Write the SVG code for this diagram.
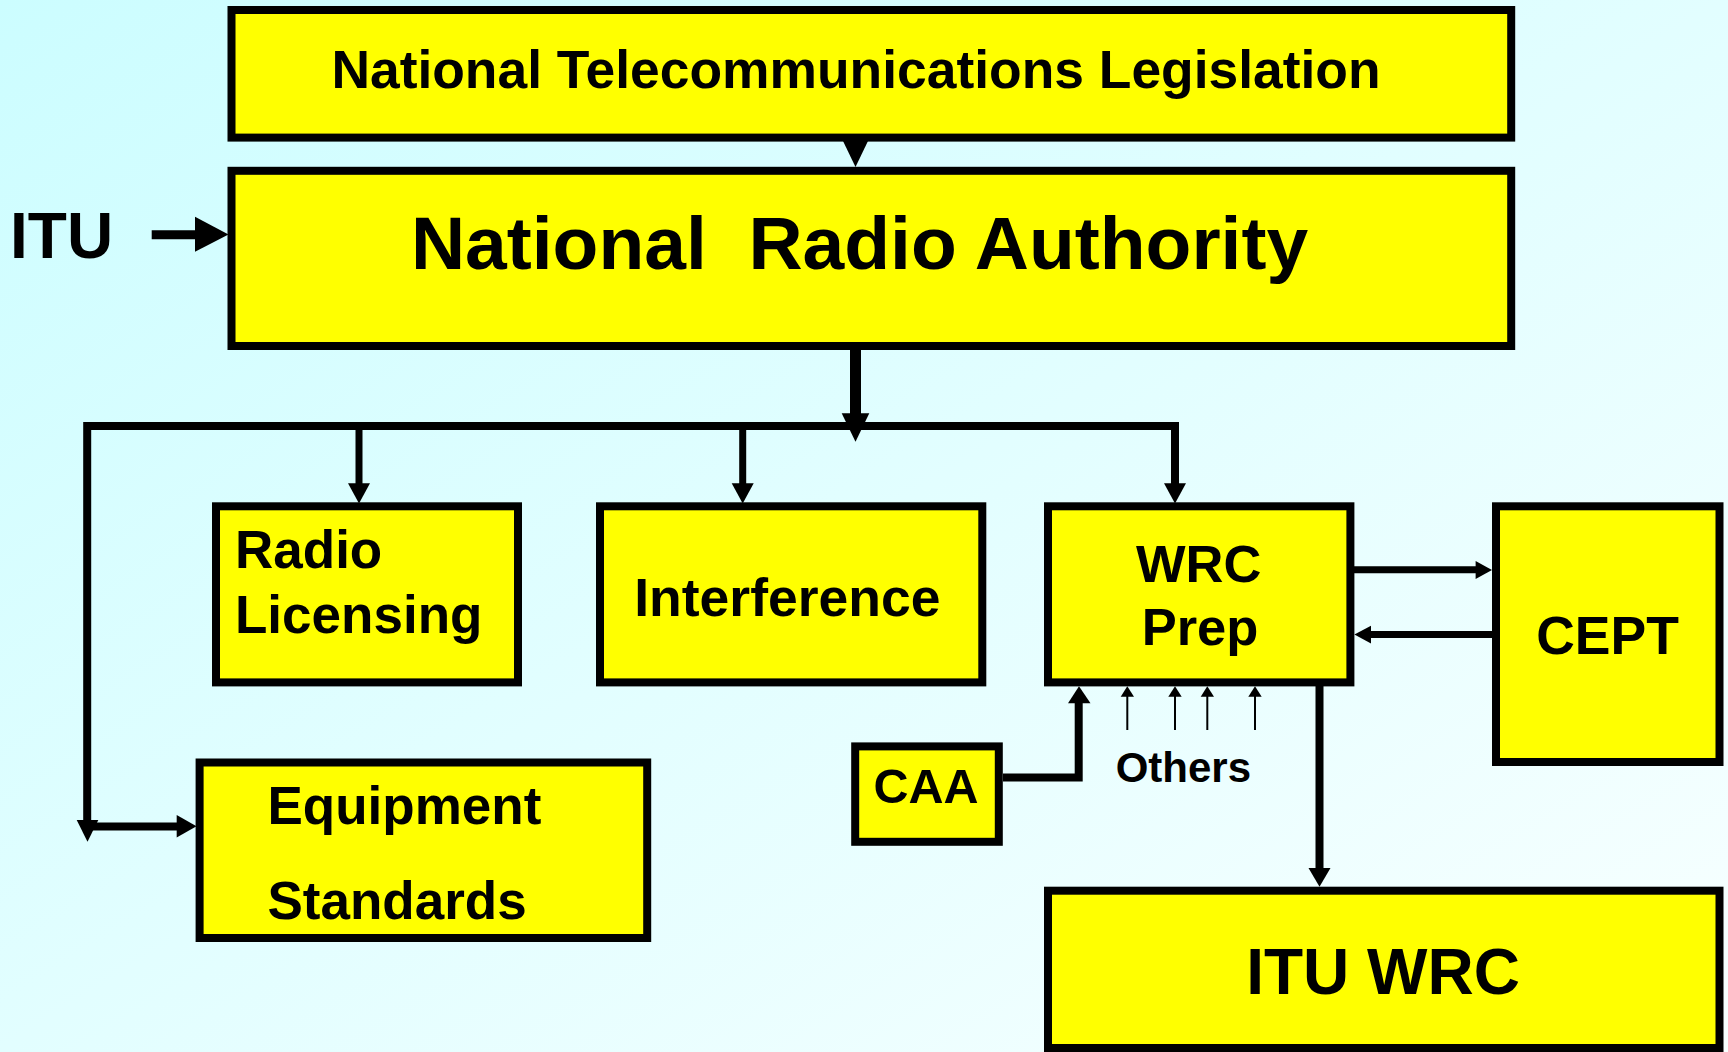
<svg xmlns="http://www.w3.org/2000/svg" width="1728" height="1052" viewBox="0 0 1728 1052">
<defs>
<linearGradient id="bg" x1="0" y1="0" x2="1" y2="1">
<stop offset="0" stop-color="#ccfdff"/>
<stop offset="1" stop-color="#f8ffff"/>
</linearGradient>
<style>
.box{fill:#ffff00;stroke:#000;stroke-width:8}
.t{font-family:"Liberation Sans",Arial,Helvetica,sans-serif;font-weight:bold;fill:#000}
.m{text-anchor:middle}
.ln{fill:none;stroke:#000;stroke-width:8;stroke-linejoin:miter}
.thin{fill:none;stroke:#000;stroke-width:2}
.ah{fill:#000}
</style>
</defs>
<rect x="0" y="0" width="1728" height="1052" fill="url(#bg)"/>

<g id="connectors">
<!-- legislation -> NRA -->
<polygon class="ah" points="843,141 868,141 855.5,167"/>
<!-- ITU -> NRA -->
<line class="ln" x1="151.7" y1="234.7" x2="197" y2="234.7" style="stroke-width:9"/>
<polygon class="ah" points="195,216.7 195,251.7 228.5,234.5"/>
<!-- trunk -->
<line class="ln" x1="855.5" y1="350" x2="855.5" y2="415" style="stroke-width:11"/>
<polygon class="ah" points="841.7,413.3 869.3,413.3 855.5,441.7"/>
<!-- bus -->
<polyline class="ln" points="87.2,822 87.2,426 1175,426 1175,485"/>
<polygon class="ah" points="1164,483.2 1186,483.2 1175,503.4"/>
<line class="ln" x1="359" y1="426" x2="359" y2="485" style="stroke-width:7"/>
<polygon class="ah" points="348,483.2 370,483.2 359,503.4"/>
<line class="ln" x1="742.7" y1="426" x2="742.7" y2="485" style="stroke-width:7"/>
<polygon class="ah" points="731.7,483.2 753.7,483.2 742.7,503.4"/>
<!-- left down arrowhead and equipment arrow -->
<polygon class="ah" points="76.7,820 98.3,820 87.5,841.7"/>
<line class="ln" x1="91" y1="826.5" x2="178" y2="826.5"/>
<polygon class="ah" points="176.7,815 176.7,837.5 196.5,826.3"/>
<!-- WRC Prep -> CEPT -->
<line class="ln" x1="1354" y1="569.7" x2="1477" y2="569.7" style="stroke-width:7"/>
<polygon class="ah" points="1475.6,561 1475.6,579 1492,570"/>
<!-- CEPT -> WRC Prep -->
<line class="ln" x1="1370" y1="634.4" x2="1492" y2="634.4" style="stroke-width:7"/>
<polygon class="ah" points="1371,625.7 1371,643.5 1354.4,634.6"/>
<!-- WRC Prep -> ITU WRC -->
<line class="ln" x1="1319.5" y1="686" x2="1319.5" y2="870" style="stroke-width:8"/>
<polygon class="ah" points="1308.5,868 1330.5,868 1319.5,886.7"/>
<!-- CAA -> WRC Prep -->
<polyline class="ln" points="1003,777.5 1078.7,777.5 1078.7,702"/>
<polygon class="ah" points="1068,703.3 1090.5,703.3 1079,686.2"/>
<!-- Others -->
<line class="thin" x1="1127.3" y1="730" x2="1127.3" y2="696"/>
<polygon class="ah" points="1120.7,696.7 1134,696.7 1127.3,686.2"/>
<line class="thin" x1="1175" y1="730" x2="1175" y2="696"/>
<polygon class="ah" points="1168.3,696.7 1181.7,696.7 1175,686.2"/>
<line class="thin" x1="1207.3" y1="730" x2="1207.3" y2="696"/>
<polygon class="ah" points="1200.7,696.7 1214,696.7 1207.3,686.2"/>
<line class="thin" x1="1255" y1="730" x2="1255" y2="696"/>
<polygon class="ah" points="1248.3,696.7 1261.7,696.7 1255,686.2"/>
</g>

<g id="legislation">
<rect class="box" x="231.5" y="10" width="1279.7" height="127.6"/>
<text class="t m" x="856" y="88.3" font-size="53.4">National Telecommunications Legislation</text>
</g>
<g id="nra">
<rect class="box" x="231.5" y="170.8" width="1279.7" height="175.2"/>
<text class="t m" x="859.5" y="268.5" font-size="75" style="white-space:pre" xml:space="preserve">National  Radio Authority</text>
</g>
<g id="itu">
<text class="t" x="10" y="258.4" font-size="64">ITU</text>
</g>
<g id="licensing">
<rect class="box" x="216" y="506.3" width="302" height="176.1"/>
<text class="t" x="235" y="568" font-size="53">Radio</text>
<text class="t" x="235" y="632.7" font-size="53">Licensing</text>
</g>
<g id="interference">
<rect class="box" x="600" y="506.3" width="382.3" height="176.1"/>
<text class="t m" x="787.4" y="616" font-size="53.5">Interference</text>
</g>
<g id="wrcprep">
<rect class="box" x="1048" y="506.3" width="302.4" height="176.1"/>
<text class="t m" x="1198.7" y="582" font-size="52.5">WRC</text>
<text class="t m" x="1200" y="645" font-size="52.5">Prep</text>
</g>
<g id="cept">
<rect class="box" x="1496" y="506.3" width="223.5" height="255.7"/>
<text class="t m" x="1607.5" y="653.5" font-size="53.5">CEPT</text>
</g>
<g id="equipment">
<rect class="box" x="199.6" y="762.5" width="447.6" height="175.5"/>
<text class="t" x="267.5" y="824" font-size="53">Equipment</text>
<text class="t" x="267.5" y="919.3" font-size="53">Standards</text>
</g>
<g id="caa">
<rect class="box" x="855.2" y="746.4" width="143.6" height="95.4"/>
<text class="t m" x="926" y="802.8" font-size="48.5">CAA</text>
</g>
<g id="others">
<text class="t m" x="1183.4" y="781.7" font-size="42">Others</text>
</g>
<g id="ituwrc">
<rect class="box" x="1048" y="890.7" width="671.5" height="157.3"/>
<text class="t m" x="1383" y="994" font-size="64">ITU WRC</text>
</g>
</svg>
